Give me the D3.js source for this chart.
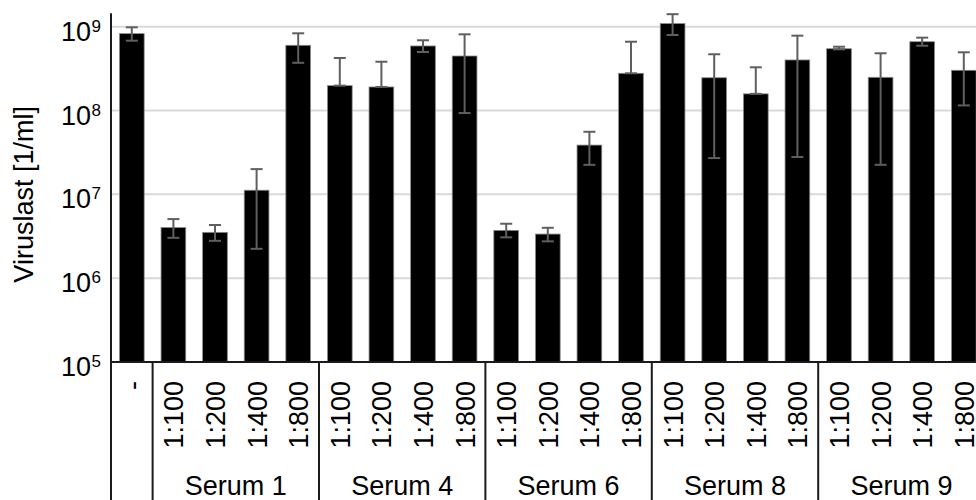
<!DOCTYPE html>
<html>
<head>
<meta charset="utf-8">
<script src="https://cdn.jsdelivr.net/npm/d3@7"></script>
<style>
  html, body { margin: 0; padding: 0; background: #fff; }
  svg { display: block; font-family: "Liberation Sans", Arial, sans-serif; }
</style>
</head>
<body>
<svg id="chart" width="976" height="500"></svg>
<script>
// ---- data ----
const groups = ["Serum 1", "Serum 4", "Serum 6", "Serum 8", "Serum 9"];
const dilutions = ["1:100", "1:200", "1:400", "1:800"];
const categories = ["-"].concat(groups.flatMap(() => dilutions));
const values = [8.26e8,
  4.02e6, 3.52e6, 1.12e7, 6.00e8,
  1.98e8, 1.91e8, 5.89e8, 4.47e8,
  3.72e6, 3.36e6, 3.87e7, 2.78e8,
  1.09e9, 2.46e8, 1.58e8, 4.01e8,
  5.46e8, 2.49e8, 6.62e8, 3.02e8];
const errUpper = [9.84e8,
  5.07e6, 4.31e6, 2.00e7, 8.34e8,
  4.23e8, 3.82e8, 6.89e8, 8.11e8,
  4.46e6, 3.99e6, 5.58e7, 6.62e8,
  1.41e9, 4.69e8, 3.28e8, 7.82e8,
  5.77e8, 4.82e8, 7.40e8, 4.95e8];
const errLower = [6.81e8,
  3.03e6, 2.79e6, 2.24e6, 3.71e8,
  1.98e8, 1.91e8, 4.99e8, 9.33e7,
  3.07e6, 2.75e6, 2.25e7, 2.78e8,
  7.96e8, 2.71e7, 1.58e8, 2.79e7,
  5.37e8, 2.25e7, 5.93e8, 1.15e8];
const yTicks = [1e5, 1e6, 1e7, 1e8, 1e9];
const yTickExponents = ["5", "6", "7", "8", "9"];
const yLabel = "Viruslast [1/ml]";

// ---- layout ----
const svg = d3.select("#chart");
const left = 111, plotRight = 984.6, axisY = 362, topY = 26.7, bottomY = 500;
const font = 27;

const x = d3.scaleBand()
  .domain(d3.range(categories.length))
  .range([left, plotRight])
  .paddingInner(0.406)
  .paddingOuter(0.203);
const step = x.step();
const gap = step * 0.406 / 2;

const y = d3.scaleLog().domain([1e5, 1e9]).range([axisY, topY]);
const axisTop = y(1.45e9);

// gridlines
svg.append("g").selectAll("line")
  .data(yTicks.slice(1))
  .join("line")
  .attr("x1", left).attr("x2", 976)
  .attr("y1", d => y(d)).attr("y2", d => y(d))
  .attr("stroke", "#d9d9d9").attr("stroke-width", 2);

// bars
svg.append("g").selectAll("rect")
  .data(values)
  .join("rect")
  .attr("x", (d, i) => x(i))
  .attr("width", x.bandwidth())
  .attr("y", d => y(d))
  .attr("height", d => axisY - y(d))
  .attr("fill", "#000")
  .attr("stroke", "#8a8a8a")
  .attr("stroke-width", 0.8);

// error bars
const eb = svg.append("g").attr("stroke", "#5f5f5f").attr("stroke-width", 2).attr("fill", "none");
values.forEach((v, i) => {
  const cx = x(i) + x.bandwidth() / 2;
  const yu = y(errUpper[i]), yl = y(errLower[i]);
  eb.append("line").attr("x1", cx).attr("x2", cx).attr("y1", yu).attr("y2", yl);
  eb.append("line").attr("x1", cx - 6).attr("x2", cx + 6).attr("y1", yu).attr("y2", yu);
  eb.append("line").attr("x1", cx - 6).attr("x2", cx + 6).attr("y1", yl).attr("y2", yl);
});

// axes lines
svg.append("line").attr("x1", left).attr("x2", left).attr("y1", axisTop).attr("y2", bottomY)
  .attr("stroke", "#1a1a1a").attr("stroke-width", 2);
svg.append("line").attr("x1", left).attr("x2", 976).attr("y1", axisY).attr("y2", axisY)
  .attr("stroke", "#1a1a1a").attr("stroke-width", 2);

// group separators (after "-" and between groups)
const sepIdx = [1, 5, 9, 13, 17];
svg.append("g").selectAll("line")
  .data(sepIdx)
  .join("line")
  .attr("x1", d => x(d) - gap).attr("x2", d => x(d) - gap)
  .attr("y1", axisY).attr("y2", bottomY)
  .attr("stroke", "#1a1a1a").attr("stroke-width", 2);

// y tick labels: base "10" plus superscript exponent
const yt = svg.append("g").attr("fill", "#000");
yTicks.forEach((t, k) => {
  yt.append("text")
    .attr("x", 91)
    .attr("y", y(t) + 14)
    .attr("text-anchor", "end")
    .attr("font-size", font)
    .text("10");
  yt.append("text")
    .attr("x", 91.5)
    .attr("y", y(t) + 5)
    .attr("text-anchor", "start")
    .attr("font-size", 17)
    .text(yTickExponents[k]);
});

// y label
svg.append("text")
  .attr("transform", `translate(33, ${(axisY + topY) / 2}) rotate(-90)`)
  .attr("text-anchor", "middle")
  .attr("font-size", font)
  .text(yLabel);

// category labels
svg.append("g").selectAll("text")
  .data(categories)
  .join("text")
  .attr("transform", (d, i) => `translate(${x(i) + x.bandwidth() / 2 + 10}, 381) rotate(-90)`)
  .attr("text-anchor", "end")
  .attr("font-size", font)
  .text(d => d);

// group labels
svg.append("g").selectAll("text")
  .data(groups)
  .join("text")
  .attr("x", (d, g) => {
    const a = x(1 + g * 4) - gap, b = x(1 + g * 4 + 3) + x.bandwidth() + gap;
    return (a + b) / 2;
  })
  .attr("y", 495)
  .attr("text-anchor", "middle")
  .attr("font-size", font)
  .text(d => d);
</script>
</body>
</html>
